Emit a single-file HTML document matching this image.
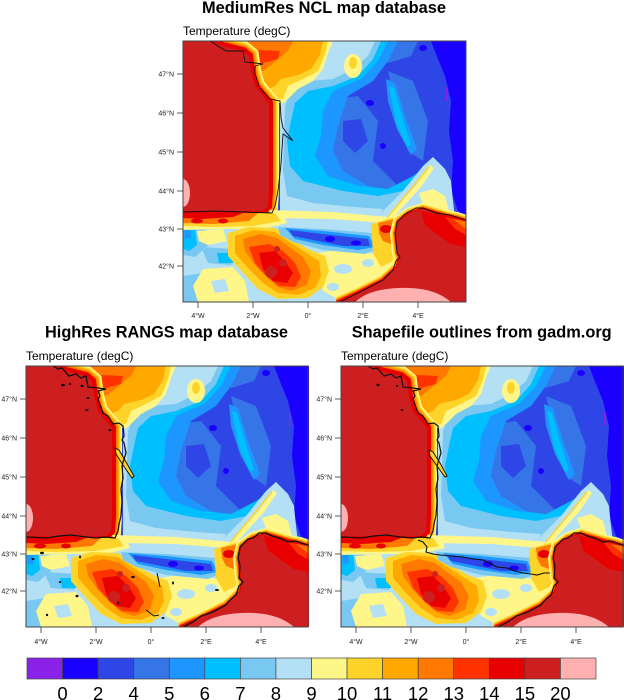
<!DOCTYPE html>
<html><head><meta charset="utf-8"><style>
html,body{margin:0;padding:0;background:#fff;}
svg{display:block;font-family:"Liberation Sans",Arial,sans-serif;}
</style></head><body>
<svg width="624" height="700" viewBox="0 0 624 700" xmlns="http://www.w3.org/2000/svg">
<defs>
<clipPath id="pc"><rect x="0" y="0" width="283" height="261"/></clipPath>
<path id="land1" d="M0,0 L27,0 L40,5 L60,10 L66,15 L68,30 L72,45 L80,55 L86,62 L86,150 L85,165 L80,170 L0,170Z"/>
<path id="land2" d="M283,180 L274,177 L264,175 L240,168 L227,172 L216,180 L213,192 L215,212 L217,216 L214,226 L200,239 L174,252 L154,261 L283,261Z"/>
<g id="field">
<rect x="0" y="0" width="283" height="261" fill="#2E46E6"/>
<path fill="#3575E8" d="M140,60 L175,55 L195,80 L190,120 L215,145 L195,160 L160,160 L140,130 L130,95Z"/>
<path fill="#3575E8" d="M205,30 L230,40 L245,80 L240,120 L225,110 L215,75Z"/>
<path fill="#3575E8" d="M195,0 L235,0 L228,15 L205,22Z"/>
<path fill="#2E46E6" d="M160,80 L178,78 L185,100 L172,112 L160,100Z"/>
<path fill="#1A00FF" d="M248,0 L283,0 L283,178 L275,170 L268,150 L270,120 L266,90 L268,60 L262,35 L255,18Z"/>
<ellipse cx="187" cy="62" rx="4" ry="3" fill="#1A00FF"/>
<ellipse cx="200" cy="105" rx="3" ry="3" fill="#1A00FF"/>
<ellipse cx="240" cy="7" rx="4" ry="3" fill="#1A00FF"/>
<rect x="263" y="46" width="1.5" height="14" fill="#8B22EA"/>
<path fill="#1E96FF" d="M97,0 L215,0 L205,20 L190,40 L165,55 L155,85 L150,110 L160,130 L185,145 L210,150 L230,140 L245,128 L255,135 L245,155 L225,168 L205,178 L97,178Z"/>
<path fill="#1E96FF" d="M203,38 L212,42 L222,75 L234,108 L228,114 L214,88 L205,60Z"/>
<path fill="#00BFFF" d="M97,0 L205,0 L195,20 L178,38 L150,50 L140,70 L138,95 L132,115 L145,135 L175,145 L205,148 L230,135 L245,125 L250,138 L235,158 L215,170 L200,178 L97,178Z"/>
<path fill="#00BFFF" d="M206,45 L211,47 L219,75 L228,104 L224,106 L213,82Z"/>
<path fill="#78C8F2" d="M97,0 L198,0 L190,18 L175,35 L150,45 L125,50 L112,62 L108,80 L104,100 L107,125 L120,140 L160,150 L195,155 L220,150 L240,132 L250,124 L262,135 L268,150 L262,162 L240,164 L215,172 L200,178 L97,178Z"/>
<path fill="#B4E0F5" d="M97,0 L192,0 L185,15 L170,28 L150,38 L125,40 L108,50 L102,65 L101,100 L100,130 L104,155 L130,162 L170,166 L200,168 L195,178 L97,178Z"/>
<path fill="#FFF68A" d="M60,0 L150,0 L145,12 L140,28 L130,40 L115,48 L105,58 L100,62 L86,62Z"/>
<path fill="#FFD42A" d="M60,0 L145,0 L142,14 L135,30 L120,38 L105,45 L100,58 L86,60Z"/>
<path fill="#FFA800" d="M55,0 L140,0 L137,14 L128,28 L115,34 L98,38 L92,45 L80,50Z"/>
<path fill="#FF7800" d="M40,0 L110,0 L105,10 L95,18 L88,24 L80,30Z"/>
<path fill="#FF3300" d="M55,8 L97,10 L95,18 L80,22 L66,20Z"/>
<ellipse cx="170" cy="25" rx="9" ry="12" fill="#FFF68A"/>
<ellipse cx="170" cy="22" rx="4" ry="6" fill="#FFD42A"/>
<use href="#land1" fill="none" stroke="#FFF68A" stroke-width="20"/>
<use href="#land1" fill="none" stroke="#FFD42A" stroke-width="17"/>
<use href="#land1" fill="none" stroke="#FFA800" stroke-width="14"/>
<use href="#land1" fill="none" stroke="#FF7800" stroke-width="11"/>
<use href="#land1" fill="none" stroke="#E80000" stroke-width="8"/>
<path fill="#B4E0F5" d="M183,188 L200,170 L220,150 L240,125 L250,116 L262,128 L268,140 L270,160 L272,176 L264,174 L240,167 L215,180 L200,192Z"/>
<path fill="#FFF68A" d="M196,184 L214,166 L234,143 L247,124 L251,127 L238,146 L220,166 L203,186Z"/>
<path fill="#FFF68A" d="M236,152 L250,148 L262,155 L266,170 L252,166 L240,163Z"/>
<path d="M200,182 L246,126" stroke="#FFD42A" stroke-width="1.5" fill="none"/>
<path fill="#B4E0F5" d="M0,172 L92,172 L150,174 L200,180 L215,185 L214,226 L200,239 L174,252 L154,261 L0,261Z"/>
<path fill="#FFF68A" d="M86,169 L150,171 L205,176 L200,182 L150,178 L90,177Z"/>
<path fill="#78C8F2" d="M0,182 L22,184 L26,204 L12,216 L0,214Z"/>
<path fill="#00BFFF" d="M0,186 L12,186 L14,204 L6,210 L0,208Z"/>
<path fill="#1E96FF" d="M1,188 L7,187 L8,197 L2,198Z"/>
<path fill="#78C8F2" d="M18,206 L52,208 L48,224 L25,222Z"/>
<path fill="#78C8F2" d="M0,235 L20,232 L25,250 L15,261 L0,261Z"/>
<path fill="#FFF68A" d="M20,228 L50,226 L62,240 L66,261 L15,261 L10,245Z"/>
<path fill="#B4E0F5" d="M28,240 L42,238 L46,250 L32,252Z"/>
<path fill="#FFF68A" d="M14,190 L40,188 L44,200 L25,204 L16,200Z"/>
<path fill="#00BFFF" d="M34,212 L52,212 L50,222 L36,222Z"/>
<path fill="#FFF68A" d="M0,172 L100,172 L104,182 L80,188 L40,188 L0,189Z"/>
<path fill="#FFD42A" d="M0,172 L92,172 L98,180 L70,185 L30,186 L0,185Z"/>
<path fill="#FF7800" d="M0,172 L75,172 L66,180 L30,183 L0,182Z"/>
<path fill="#E80000" d="M0,172 L60,172 L50,176 L20,178 L0,177Z"/>
<ellipse cx="14" cy="180" rx="6" ry="2.5" fill="#E80000"/>
<ellipse cx="40" cy="180" rx="5" ry="2.5" fill="#E80000"/>
<path fill="#FFF68A" d="M135,212 L165,207 L195,214 L210,222 L200,238 L175,250 L155,258 L140,250 L134,230Z"/>
<ellipse cx="160" cy="228" rx="9" ry="5" fill="#B4E0F5"/>
<ellipse cx="185" cy="222" rx="6" ry="4" fill="#B4E0F5"/>
<ellipse cx="150" cy="246" rx="6" ry="4" fill="#B4E0F5"/>
<path fill="#FFD42A" d="M45,192 L65,186 L92,187 L105,196 L125,208 L142,215 L146,230 L140,246 L125,257 L95,258 L75,248 L60,232 L45,215Z"/>
<path fill="#FFA800" d="M52,195 L70,189 L92,191 L105,200 L122,211 L136,220 L138,235 L132,247 L115,254 L95,252 L80,242 L66,228 L52,212Z"/>
<path fill="#FF7800" d="M60,198 L78,193 L94,197 L106,206 L120,216 L128,230 L124,244 L108,250 L95,246 L84,236 L72,224 L62,210Z"/>
<path fill="#FF3300" d="M66,206 L86,203 L100,210 L112,222 L118,236 L112,246 L96,245 L84,236 L72,222Z"/>
<path fill="#E80000" d="M76,212 L92,210 L102,220 L110,232 L104,242 L90,240 L80,228Z"/>
<ellipse cx="88" cy="231" rx="6" ry="6" fill="#CD1F1F"/>
<ellipse cx="100" cy="222" rx="4" ry="4" fill="#CD1F1F"/>
<ellipse cx="94" cy="208" rx="3" ry="3" fill="#CD1F1F"/>
<path fill="#78C8F2" d="M95,186 L140,188 L190,192 L200,206 L182,213 L140,209 L110,201 L97,194Z"/>
<path fill="#1E96FF" d="M102,187 L140,190 L186,195 L192,206 L175,209 L140,204 L112,198Z"/>
<path fill="#2E46E6" d="M106,189 L140,193 L185,198 L187,205 L160,205 L135,200 L110,195Z"/>
<ellipse cx="147" cy="198" rx="5" ry="3" fill="#1A00FF"/>
<ellipse cx="173" cy="202" rx="5" ry="2.5" fill="#1A00FF"/>
<path fill="#FFD42A" d="M188,183 L212,176 L214,218 L198,226 L190,212Z"/>
<path fill="#FF7800" d="M195,182 L212,178 L213,205 L200,200 L196,192Z"/>
<ellipse cx="203" cy="188" rx="6" ry="4" fill="#E80000"/>
<use href="#land2" fill="none" stroke="#FFF68A" stroke-width="12"/>
<use href="#land2" fill="none" stroke="#FFD42A" stroke-width="9"/>
<use href="#land2" fill="none" stroke="#FF7800" stroke-width="6"/>
<use href="#land2" fill="none" stroke="#E80000" stroke-width="3"/>
<use href="#land1" fill="#CD1F1F"/>
<ellipse cx="0" cy="152" rx="7" ry="14" fill="#FFB1B1"/>
<use href="#land2" fill="#CD1F1F"/>
<path fill="#E80000" d="M238,170 L283,179 L283,206 L268,203 L255,194 L242,184Z"/>
<path fill="#FF3300" d="M262,176 L283,180 L283,194 L272,188Z"/>
<path fill="#FF7800" d="M270,178 L283,181 L283,188Z"/>
<path fill="#FFB1B1" d="M172,261 C182,252 196,248 215,247 C238,246 255,250 268,261Z"/>
</g>
<path id="coastMed" d="M27,0 L43,10 L60,10 L62,21 L72,22 L80,23 L72,25 L72,33 L77,47 L87,58 L97,60 L98,77 L100,87 L110,100 L100,93 L98,123 L95,150 L92,165 L89,172 L60,171 L33,170 L0,171 M283,179 L267,174 L253,172 L240,167 L233,167 L222,173 L214,181 L212,192 L214,212 L217,216 L213,220 L210,229 L200,239 L187,246 L167,256 L157,261"/>
<path id="coastHi" d="M27,0 L32,3 L36,2 L43,10 L50,8 L55,12 L60,10 L62,21 L72,22 L80,23 L72,25 L74,30 L72,33 L77,47 L82,50 L87,58 L93,57 L97,60 L98,70 L96,74 L98,77 L100,87 L98,93 L96,100 L97,112 L95,123 L96,135 L95,150 L93,158 L92,165 L89,172 L80,171 L70,172 L60,171 L45,169 L33,170 L20,172 L0,171 M283,179 L278,178 L270,175 L262,176 L253,172 L246,170 L240,167 L233,167 L227,172 L222,173 L216,179 L214,181 L212,192 L214,200 L213,212 L217,216 L213,220 L210,229 L204,234 L200,239 L187,246 L175,250 L167,256 L157,261"/>
</defs>

<!-- Titles -->
<text x="324" y="13" font-size="16.5" font-weight="bold" text-anchor="middle" textLength="244" lengthAdjust="spacingAndGlyphs">MediumRes NCL map database</text>
<text x="183" y="35" font-size="12">Temperature (degC)</text>
<text x="166.5" y="337.5" font-size="16.5" font-weight="bold" text-anchor="middle" textLength="243" lengthAdjust="spacingAndGlyphs">HighRes RANGS map database</text>
<text x="26" y="360" font-size="12">Temperature (degC)</text>
<text x="481.7" y="337.5" font-size="16.5" font-weight="bold" text-anchor="middle" textLength="260" lengthAdjust="spacingAndGlyphs">Shapefile outlines from gadm.org</text>
<text x="341" y="360" font-size="12">Temperature (degC)</text>

<!-- Top panel -->
<g transform="translate(183,41)">
<g clip-path="url(#pc)">
<use href="#field"/>
<use href="#coastMed" fill="none" stroke="#111" stroke-width="0.9"/>
</g>
<rect x="0" y="0" width="283" height="261" fill="none" stroke="#444" stroke-width="1"/>
<g stroke="#333" stroke-width="0.8">
<line x1="-6" y1="33" x2="0" y2="33"/><line x1="-6" y1="72" x2="0" y2="72"/><line x1="-6" y1="111" x2="0" y2="111"/><line x1="-6" y1="150" x2="0" y2="150"/><line x1="-6" y1="188" x2="0" y2="188"/><line x1="-6" y1="225" x2="0" y2="225"/>
<line x1="15" y1="261" x2="15" y2="267"/><line x1="70" y1="261" x2="70" y2="267"/><line x1="125" y1="261" x2="125" y2="267"/><line x1="180" y1="261" x2="180" y2="267"/><line x1="235" y1="261" x2="235" y2="267"/>
</g>
<g font-size="7" fill="#222" text-anchor="end">
<text x="-9" y="35.5">47&#176;N</text><text x="-9" y="74.5">46&#176;N</text><text x="-9" y="113.5">45&#176;N</text><text x="-9" y="152.5">44&#176;N</text><text x="-9" y="190.5">43&#176;N</text><text x="-9" y="227.5">42&#176;N</text>
</g>
<g font-size="7" fill="#222" text-anchor="middle">
<text x="15" y="277">4&#176;W</text><text x="70" y="277">2&#176;W</text><text x="125" y="277">0&#176;</text><text x="180" y="277">2&#176;E</text><text x="235" y="277">4&#176;E</text>
</g>
</g>

<!-- Bottom-left panel -->
<g transform="translate(26,366)">
<g clip-path="url(#pc)">
<use href="#field"/>
<path d="M89,82 L93,84 L100,96 L108,110 L106,112 L97,99 L90,88Z" fill="#FFD42A" stroke="#111" stroke-width="1"/>
<use href="#coastHi" fill="none" stroke="#111" stroke-width="1.3"/>
<g fill="#111">
<ellipse cx="37" cy="19" rx="2" ry="1.3"/><ellipse cx="44" cy="18" rx="1.2" ry="1"/><ellipse cx="56" cy="20" rx="1.5" ry="1.2"/><ellipse cx="62" cy="32" rx="1.5" ry="1"/><ellipse cx="61" cy="44" rx="1.6" ry="1"/><ellipse cx="84" cy="64" rx="1.5" ry="1"/>
<ellipse cx="7" cy="193" rx="1.5" ry="1"/><ellipse cx="16" cy="187" rx="2" ry="1.2"/><ellipse cx="54" cy="191" rx="1" ry="1.5"/><ellipse cx="34" cy="216" rx="1.2" ry="1"/><ellipse cx="51" cy="230" rx="1.6" ry="1.3"/><ellipse cx="21" cy="249" rx="1.2" ry="1.2"/><ellipse cx="107" cy="211" rx="2" ry="1"/><ellipse cx="147" cy="217" rx="1" ry="1.5"/><ellipse cx="191" cy="224" rx="2" ry="1"/><ellipse cx="137" cy="252" rx="1.5" ry="1"/><ellipse cx="92" cy="237" rx="1" ry="1.5"/>
</g>
<path d="M131,207 L134,221 M120,244 L128,250 L133,249" stroke="#111" stroke-width="1" fill="none"/>
</g>
<rect x="0" y="0" width="282" height="261" fill="none" stroke="#444" stroke-width="1"/>
<g stroke="#333" stroke-width="0.8">
<line x1="-6" y1="33" x2="0" y2="33"/><line x1="-6" y1="72" x2="0" y2="72"/><line x1="-6" y1="111" x2="0" y2="111"/><line x1="-6" y1="150" x2="0" y2="150"/><line x1="-6" y1="188" x2="0" y2="188"/><line x1="-6" y1="225" x2="0" y2="225"/>
<line x1="15" y1="261" x2="15" y2="267"/><line x1="70" y1="261" x2="70" y2="267"/><line x1="125" y1="261" x2="125" y2="267"/><line x1="180" y1="261" x2="180" y2="267"/><line x1="235" y1="261" x2="235" y2="267"/>
</g>
<g font-size="7" fill="#222" text-anchor="end">
<text x="-9" y="35.5">47&#176;N</text><text x="-9" y="74.5">46&#176;N</text><text x="-9" y="113.5">45&#176;N</text><text x="-9" y="152.5">44&#176;N</text><text x="-9" y="190.5">43&#176;N</text><text x="-9" y="227.5">42&#176;N</text>
</g>
<g font-size="7" fill="#222" text-anchor="middle">
<text x="15" y="278">4&#176;W</text><text x="70" y="278">2&#176;W</text><text x="125" y="278">0&#176;</text><text x="180" y="278">2&#176;E</text><text x="235" y="278">4&#176;E</text>
</g>
</g>

<!-- Bottom-right panel -->
<g transform="translate(341,366)">
<g clip-path="url(#pc)">
<use href="#field"/>
<path d="M88,84 L92,86 L99,97 L106,110 L104,111 L96,100 L89,90Z" fill="#FFD42A" stroke="#111" stroke-width="1"/>
<use href="#coastHi" fill="none" stroke="#111" stroke-width="1.2"/>
<path d="M77,174 L82,176 L86,181 L85,186 L92,188 L99,189 L110,190 L122,191 L132,193 L142,194 L150,198 L156,201 L166,202 L174,205 L182,207 L190,208 L196,209 L203,207 L209,207" fill="none" stroke="#111" stroke-width="1.1"/>
<g fill="#111"><ellipse cx="37" cy="19" rx="1.6" ry="1.2"/><ellipse cx="56" cy="20" rx="1.2" ry="1"/><ellipse cx="61" cy="44" rx="1.3" ry="1"/></g>
</g>
<rect x="0" y="0" width="282" height="261" fill="none" stroke="#444" stroke-width="1"/>
<g stroke="#333" stroke-width="0.8">
<line x1="-6" y1="33" x2="0" y2="33"/><line x1="-6" y1="72" x2="0" y2="72"/><line x1="-6" y1="111" x2="0" y2="111"/><line x1="-6" y1="150" x2="0" y2="150"/><line x1="-6" y1="188" x2="0" y2="188"/><line x1="-6" y1="225" x2="0" y2="225"/>
<line x1="15" y1="261" x2="15" y2="267"/><line x1="70" y1="261" x2="70" y2="267"/><line x1="125" y1="261" x2="125" y2="267"/><line x1="180" y1="261" x2="180" y2="267"/><line x1="235" y1="261" x2="235" y2="267"/>
</g>
<g font-size="7" fill="#222" text-anchor="end">
<text x="-9" y="35.5">47&#176;N</text><text x="-9" y="74.5">46&#176;N</text><text x="-9" y="113.5">45&#176;N</text><text x="-9" y="152.5">44&#176;N</text><text x="-9" y="190.5">43&#176;N</text><text x="-9" y="227.5">42&#176;N</text>
</g>
<g font-size="7" fill="#222" text-anchor="middle">
<text x="15" y="278">4&#176;W</text><text x="70" y="278">2&#176;W</text><text x="125" y="278">0&#176;</text><text x="180" y="278">2&#176;E</text><text x="235" y="278">4&#176;E</text>
</g>
</g>

<!-- Labelbar -->
<g stroke="#444" stroke-width="0.7">
<rect x="27" y="658" width="35.56" height="21" fill="#8B22EA"/>
<rect x="62.56" y="658" width="35.56" height="21" fill="#1A00FF"/>
<rect x="98.12" y="658" width="35.56" height="21" fill="#2E46E6"/>
<rect x="133.69" y="658" width="35.56" height="21" fill="#3575E8"/>
<rect x="169.25" y="658" width="35.56" height="21" fill="#1E96FF"/>
<rect x="204.81" y="658" width="35.56" height="21" fill="#00BFFF"/>
<rect x="240.37" y="658" width="35.56" height="21" fill="#78C8F2"/>
<rect x="275.94" y="658" width="35.56" height="21" fill="#B4E0F5"/>
<rect x="311.5" y="658" width="35.56" height="21" fill="#FFF68A"/>
<rect x="347.06" y="658" width="35.56" height="21" fill="#FFD42A"/>
<rect x="382.62" y="658" width="35.56" height="21" fill="#FFA800"/>
<rect x="418.19" y="658" width="35.56" height="21" fill="#FF7800"/>
<rect x="453.75" y="658" width="35.56" height="21" fill="#FF3300"/>
<rect x="489.31" y="658" width="35.56" height="21" fill="#E80000"/>
<rect x="524.87" y="658" width="35.56" height="21" fill="#CD1F1F"/>
<rect x="560.44" y="658" width="35.56" height="21" fill="#FFB1B1"/>
</g>
<g font-size="18.5" fill="#000" text-anchor="middle">
<text x="62.56" y="700">0</text>
<text x="98.12" y="700">2</text>
<text x="133.69" y="700">4</text>
<text x="169.25" y="700">5</text>
<text x="204.81" y="700">6</text>
<text x="240.37" y="700">7</text>
<text x="275.94" y="700">8</text>
<text x="311.5" y="700">9</text>
<text x="347.06" y="700">10</text>
<text x="382.62" y="700">11</text>
<text x="418.19" y="700">12</text>
<text x="453.75" y="700">13</text>
<text x="489.31" y="700">14</text>
<text x="524.87" y="700">15</text>
<text x="560.44" y="700">20</text>
</g>
</svg>
</body></html>
